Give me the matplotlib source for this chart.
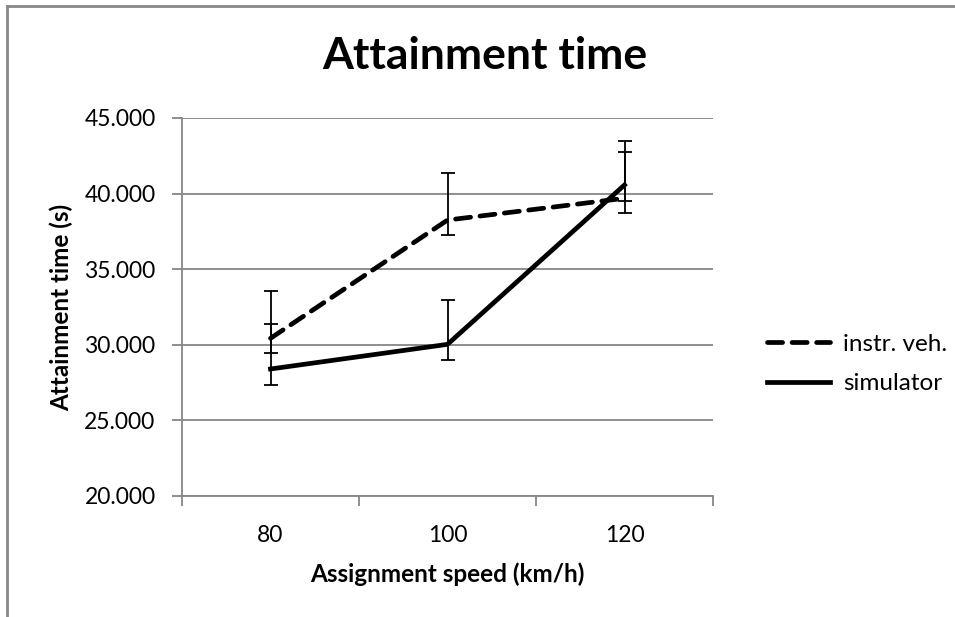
import numpy as np
import matplotlib
matplotlib.use('Agg')
import matplotlib.pyplot as plt

plt.rcParams['font.family'] = ['Lato', 'DejaVu Sans']

speeds = ['80', '100', '120']
instr = [30.43, 38.25, 39.69]
instr_up = [3.15, 3.13, 3.08]
instr_down = [0.95, 0.97, 0.99]
sim = [28.40, 30.03, 40.57]
sim_up = [2.98, 2.93, 2.93]
sim_down = [1.06, 1.03, 1.07]
yticks = [20, 25, 30, 35, 40, 45]

grid_col = '#868686'

fig = plt.figure(figsize=(9.55, 6.17), dpi=100)
ax = fig.add_axes([182/955, 121/617, 531/955, 378/617])

x = np.arange(len(speeds))
ax.errorbar(x, instr, yerr=[instr_down, instr_up], color='black', lw=3.4,
            linestyle=(0, (3.2, 2.0)), dash_capstyle='round', ecolor='black',
            elinewidth=1.3, capsize=5, capthick=1.3, label='instr. veh.', zorder=3)
ax.errorbar(x, sim, yerr=[sim_down, sim_up], color='black', lw=3.4,
            linestyle='-', ecolor='black', elinewidth=1.3, capsize=5,
            capthick=1.3, label='simulator', zorder=3)

ax.set_xlim(-0.5, 2.5)
ax.set_ylim(20, 45)
ax.set_yticks(yticks)
ax.set_yticklabels([f'{v:.3f}' for v in yticks], fontsize=16.5)
ax.yaxis.grid(True, color=grid_col, lw=1.3)
ax.set_axisbelow(True)

ax.set_xticks([-0.5, 0.5, 1.5, 2.5])
ax.set_xticklabels([])
ax.set_xticks(x, minor=True)
ax.set_xticklabels(speeds, minor=True, fontsize=16.5)
ax.tick_params(axis='x', which='minor', length=0, pad=21)
ax.tick_params(axis='x', which='major', length=7, width=1.3, color=grid_col)
ax.tick_params(axis='y', length=7, width=1.3, color=grid_col, pad=12)

for s in ['top', 'right']:
    ax.spines[s].set_visible(False)
for s in ['left', 'bottom']:
    ax.spines[s].set_color(grid_col)
    ax.spines[s].set_linewidth(1.3)

ax.set_xlabel('Assignment speed (km/h)', fontsize=17.5, fontweight='bold', labelpad=12)
ax.set_ylabel('Attainment time (s)', fontsize=17.5, fontweight='bold', labelpad=8)

fig.text(485/955, 1 - 56/617, 'Attainment time', fontsize=32, fontweight='bold',
         ha='center', va='center')

handles, labels = ax.get_legend_handles_labels()
handles = [h[0] for h in handles]
fig.legend(handles, labels, loc='center left', bbox_to_anchor=(745/955, 1 - 364/617),
           frameon=False, fontsize=17.5, handlelength=2.6, handletextpad=0.55,
           labelspacing=0.75)

# outer chart border (left and top only visible)
fig.add_artist(plt.Line2D([7/955, 7/955], [0, 1 - 6/617], color='#888888', lw=2,
                          transform=fig.transFigure))
fig.add_artist(plt.Line2D([7/955, 1], [1 - 6/617, 1 - 6/617], color='#888888', lw=2,
                          transform=fig.transFigure))

fig.savefig('out.png', dpi=100)
